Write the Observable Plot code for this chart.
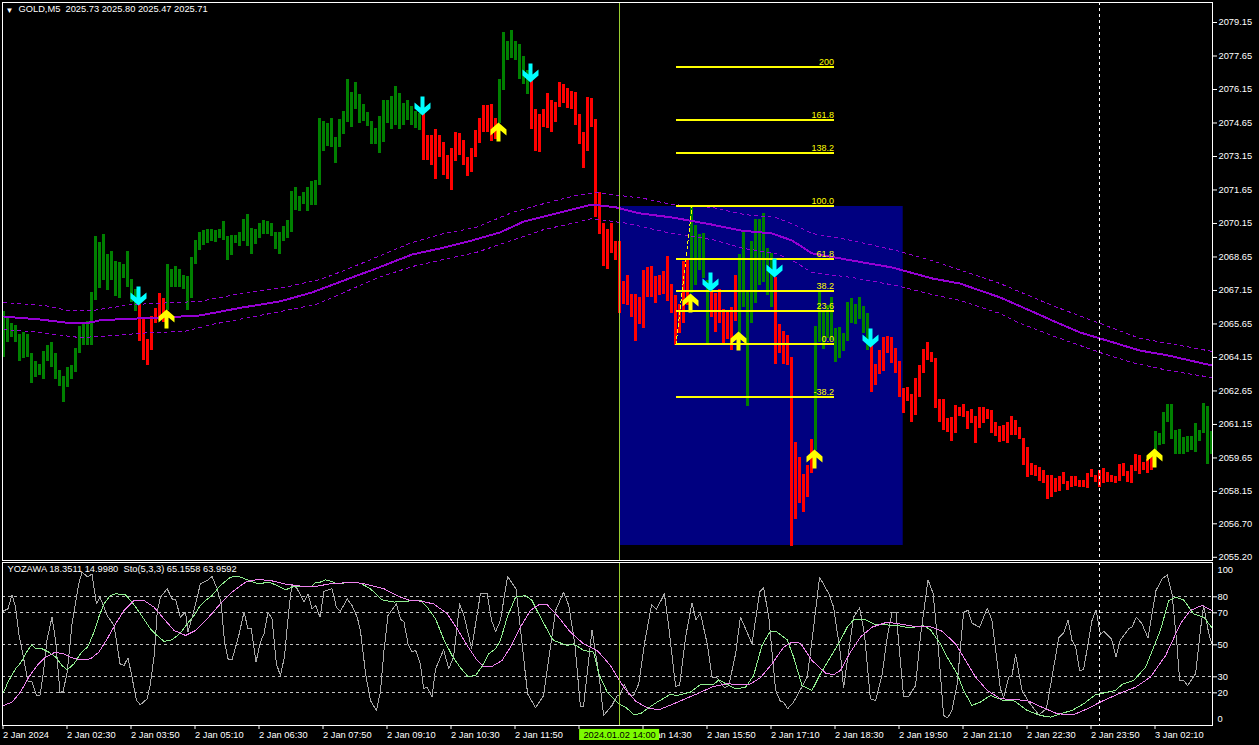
<!DOCTYPE html>
<html><head><meta charset="utf-8">
<script src="https://cdn.jsdelivr.net/npm/d3@7"></script>
<script src="https://cdn.jsdelivr.net/npm/@observablehq/plot@0.6"></script>
<style>html,body{margin:0;padding:0;background:#000;overflow:hidden}svg{display:block;overflow:visible}</style>
</head><body><div id="chart"></div>
<script>
const barRanges=[[2066.21,2064.16],[2065.95,2064.83],[2065.69,2065.06],[2065.58,2064.83],[2065.18,2063.98],[2065.27,2064.09],[2065.18,2064.13],[2064.31,2062.97],[2063.97,2063.27],[2063.83,2063.34],
[2064.42,2063.18],[2064.69,2063.97],[2064.82,2063.72],[2064.31,2063.18],[2063.57,2062.87],[2063.30,2062.15],[2063.68,2062.82],[2063.79,2063.18],[2064.55,2063.49],[2065.54,2064.34],
[2065.63,2064.69],[2065.75,2064.69],[2067.06,2064.69],[2069.57,2066.70],[2069.30,2067.24],[2069.66,2067.60],[2068.76,2067.15],[2068.90,2067.60],[2068.45,2066.88],[2068.40,2066.79],
[2068.31,2067.69],[2068.90,2067.30],[2067.63,2066.61],[2067.18,2066.21],[2066.52,2064.87],[2065.88,2064.01],[2064.95,2063.79],[2065.98,2064.46],[2066.34,2065.67],[2067.01,2065.81],
[2066.79,2065.72],[2068.31,2066.25],[2068.09,2067.30],[2068.22,2067.30],[2068.09,2067.30],[2067.82,2067.21],[2067.77,2066.25],[2068.63,2066.79],[2069.39,2068.31],[2069.75,2068.94],
[2069.84,2069.16],[2069.88,2069.25],[2069.88,2069.34],[2069.84,2069.30],[2069.88,2069.48],[2070.24,2069.39],[2069.57,2068.49],[2069.61,2068.72],[2069.61,2069.25],[2069.75,2069.12],
[2070.33,2069.34],[2070.55,2069.12],[2069.93,2068.76],[2069.88,2069.21],[2070.15,2069.48],[2070.29,2069.66],[2070.24,2069.66],[2070.15,2069.57],[2069.75,2068.98],[2069.75,2068.76],
[2070.01,2069.34],[2070.29,2069.48],[2071.58,2069.75],[2071.76,2070.73],[2071.36,2070.69],[2071.54,2071.00],[2071.76,2070.69],[2072.03,2070.95],[2072.07,2070.95],[2074.85,2071.85],
[2074.72,2073.37],[2074.63,2073.60],[2074.85,2073.55],[2074.00,2072.84],[2074.81,2073.55],[2075.16,2074.13],[2076.60,2074.67],[2076.02,2074.45],[2076.46,2075.25],[2075.93,2074.63],
[2075.48,2074.72],[2075.12,2074.49],[2074.72,2073.69],[2074.40,2073.69],[2074.94,2073.28],[2075.66,2073.78],[2075.66,2074.63],[2075.84,2074.36],[2076.28,2074.54],[2075.97,2074.36],
[2075.52,2074.54],[2075.66,2074.76],[2075.39,2074.54],[2075.16,2074.40],[2075.06,2074.31],[2075.06,2072.97],[2074.09,2072.97],[2074.09,2072.75],[2074.36,2072.12],[2074.09,2073.11],
[2073.78,2072.30],[2073.19,2072.12],[2073.51,2071.63],[2074.22,2072.93],[2074.18,2073.19],[2073.87,2072.75],[2073.11,2072.25],[2073.51,2072.43],[2074.31,2073.11],[2074.85,2073.73],
[2075.43,2074.22],[2075.43,2074.22],[2075.48,2073.82],[2074.85,2073.91],[2076.60,2074.61],[2078.70,2076.11],[2078.30,2077.45],[2078.79,2077.54],[2078.30,2077.45],[2078.17,2076.60],
[2077.63,2076.37],[2077.00,2075.93],[2076.55,2074.36],[2075.25,2073.37],[2075.03,2073.33],[2075.25,2074.45],[2075.97,2074.40],[2075.66,2074.22],[2075.57,2074.67],[2076.46,2075.34],
[2076.37,2075.52],[2076.19,2075.30],[2076.06,2075.25],[2076.02,2074.54],[2075.03,2073.69],[2074.22,2072.61],[2075.79,2073.37],[2075.75,2074.45],[2074.81,2070.42],[2071.54,2069.66],
[2070.15,2068.22],[2069.88,2068.09],[2070.15,2068.81],[2069.34,2068.49],[2069.34,2066.12],[2067.55,2066.52],[2067.82,2066.48],[2066.97,2065.94],[2066.97,2064.87],[2066.84,2065.63],
[2068.05,2065.45],[2068.18,2066.84],[2068.23,2066.84],[2067.78,2066.57],[2067.82,2066.93],[2068.00,2066.97],[2068.67,2066.66],[2067.42,2066.12],[2066.93,2064.69],[2066.52,2065.23],
[2068.45,2065.67],[2068.49,2066.48],[2070.88,2067.00],[2070.06,2067.37],[2069.66,2068.05],[2069.70,2067.69],[2067.60,2064.76],[2067.15,2065.94],[2067.01,2065.27],[2067.19,2065.67],
[2066.30,2064.78],[2066.25,2064.95],[2066.39,2064.46],[2067.82,2065.76],[2068.76,2064.76],[2069.79,2066.39],[2067.15,2061.95],[2069.34,2065.67],[2070.33,2066.57],[2070.33,2067.37],
[2070.60,2067.51],[2069.03,2066.93],[2068.79,2066.39],[2067.75,2063.84],[2065.63,2064.33],[2065.31,2063.84],[2065.14,2063.79],[2064.15,2055.69],[2060.34,2056.90],[2059.67,2057.61],
[2058.91,2057.21],[2059.31,2057.88],[2060.48,2058.96],[2065.54,2059.99],[2067.06,2064.82],[2066.25,2064.51],[2066.48,2064.99],[2066.84,2064.91],[2065.45,2063.93],[2065.49,2064.10],
[2065.23,2064.42],[2066.61,2064.87],[2066.79,2065.67],[2066.52,2065.63],[2066.84,2065.85],[2066.43,2065.21],[2066.12,2064.46],[2064.69,2062.58],[2063.84,2062.90],[2064.46,2063.39],
[2065.05,2063.52],[2065.09,2064.33],[2065.05,2063.88],[2064.55,2063.44],[2063.97,2062.36],[2062.76,2061.64],[2062.81,2062.18],[2062.49,2061.24],[2063.21,2061.55],[2063.79,2062.36],
[2064.51,2063.44],[2064.82,2064.02],[2064.37,2063.93],[2064.10,2061.87],[2062.27,2061.24],[2062.27,2060.88],[2061.42,2060.79],[2061.46,2060.39],[2062.00,2060.75],[2061.91,2061.51],
[2062.05,2061.46],[2061.73,2060.93],[2061.82,2061.19],[2061.51,2060.30],[2061.91,2060.97],[2061.91,2061.19],[2061.82,2061.37],[2061.78,2060.75],[2061.24,2060.61],[2061.06,2060.34],
[2061.10,2060.39],[2061.24,2060.30],[2061.51,2060.66],[2061.33,2060.66],[2061.01,2060.48],[2060.52,2059.31],[2060.12,2058.77],[2059.40,2058.87],[2059.31,2058.82],[2059.22,2058.60],
[2059.09,2058.51],[2058.87,2057.79],[2058.87,2057.88],[2058.73,2058.11],[2058.82,2058.15],[2059.00,2058.46],[2058.60,2058.20],[2058.82,2058.33],[2058.82,2058.37],[2058.64,2058.33],
[2058.64,2058.33],[2058.96,2058.28],[2059.13,2058.77],[2058.87,2058.55],[2059.09,2058.33],[2059.18,2058.51],[2059.00,2058.55],[2058.87,2058.55],[2058.82,2058.51],[2059.36,2058.60],
[2059.40,2058.82],[2059.05,2058.55],[2059.31,2058.51],[2059.81,2059.05],[2059.76,2058.91],[2059.45,2059.09],[2059.58,2058.96],[2059.67,2059.09],[2060.84,2059.91],[2060.75,2060.21],
[2061.69,2060.25],[2062.05,2061.24],[2062.05,2060.48],[2060.88,2059.81],[2060.93,2059.81],[2060.57,2059.81],[2060.61,2059.90],[2060.61,2059.98],[2061.19,2059.90],[2060.88,2060.39],
[2062.09,2060.75],[2061.95,2059.36],[2060.84,2059.81]];
// first bar of each trend run, with its colour
const trendRuns=[[0,"up"],[34,"down"],[41,"up"],[105,"down"],[124,"up"],[132,"down"],[172,"up"],[177,"down"],[184,"up"],[193,"down"],[203,"up"],[217,"down"],[288,"up"]];
const sellArrows=[[34,2066.48],[105,2074.99],[132,2076.46],[177,2067.10],[193,2067.73],[217,2064.60]];
const buyArrows=[[41,2066.30],[124,2074.67],[172,2067.01],[184,2065.31],[203,2060.03],[288,2060.07]];
const maMain=[[0,2065.98],[9,2065.85],[17,2065.68],[22,2065.72],[24,2065.82],[34,2065.90],[44,2065.98],[49,2066.03],[59,2066.37],[69,2066.66],[77,2067.06],[85,2067.60],[93,2068.13],[102,2068.76],[110,2069.07],[117,2069.39],[124,2069.75],[130,2070.24],[139,2070.64],[147,2071.00],[153,2070.87],[159,2070.60],[167,2070.42],[177,2070.10],[184,2069.84],[192,2069.70],[197,2069.39],[202,2068.81],[212,2068.49],[222,2068.18],[232,2067.69],[239,2067.46],[249,2066.84],[257,2066.21],[262,2065.81],[269,2065.27],[274,2065.00],[284,2064.46],[291,2064.24],[302,2063.79]];
const maUpper=[[0,2066.61],[10,2066.48],[16,2066.25],[22,2066.25],[32,2066.52],[49,2066.66],[59,2067.01],[70,2067.28],[79,2067.64],[85,2068.04],[93,2068.63],[102,2069.30],[110,2069.70],[118,2069.97],[127,2070.64],[135,2071.04],[143,2071.40],[148,2071.54],[160,2071.27],[167,2071.00],[177,2070.87],[185,2070.55],[193,2070.42],[198,2070.06],[202,2069.70],[212,2069.39],[223,2068.94],[232,2068.49],[249,2067.46],[262,2066.48],[272,2065.81],[284,2065.00],[294,2064.69],[302,2064.42]];
const maLower=[[0,2065.40],[7,2065.31],[19,2065.04],[24,2065.09],[37,2065.27],[45,2065.31],[52,2065.63],[64,2066.03],[78,2066.52],[85,2067.06],[93,2067.69],[102,2068.22],[110,2068.54],[118,2068.85],[127,2069.39],[135,2069.88],[143,2070.19],[147,2070.37],[156,2070.15],[167,2069.70],[177,2069.43],[185,2069.03],[193,2068.81],[198,2068.40],[202,2067.95],[212,2067.73],[223,2067.37],[232,2066.97],[239,2066.70],[249,2066.12],[253,2065.76],[262,2065.13],[274,2064.37],[282,2063.92],[291,2063.57],[302,2063.25]];
const fiboLevels=["200","161.8","138.2","100.0","61.8","38.2","23.6","0.0","-38.2"];
const fiboPrices=[2077.13,2074.76,2073.28,2070.91,2068.55,2067.09,2066.19,2064.73,2062.37];
const fiboSpan=[168,207.5];
const fiboTrend=[[168,2064.73],[172,2070.91]];
const fiboBox=[{x1:154,x2:224.8,y1:2055.73,y2:2070.91}];
const priceTicks=[2079.15,2077.65,2076.15,2074.65,2073.15,2071.65,2070.15,2068.65,2067.15,2065.65,2064.15,2062.65,2061.15,2059.65,2058.15,2056.70,2055.20];
const stochFast=[[-.2,71],[1,72.5],[2,81.2],[2.9,73.5],[3.7,56.9],[5,40.2],[6,27.3],[7,26.7],[8.1,18.3],[9,18.3],[9.8,31.9],[10.8,53.7],[12,67.3],[12.9,52.7],[14,20],[14.8,21],[15.8,32.9],[17,63.1],[17.9,76.7],[18.7,88.1],[19.5,95.4],[21,92.3],[22,94.4],[23.1,75.6],[24,79.8],[25.8,68.3],[27.5,62.1],[29,38.1],[30,37.1],[31,41.9],[32,29.8],[33.1,15.2],[34.1,12.5],[35.8,16.3],[36.6,25.6],[37.6,44.4],[38.3,70.4],[39.1,79.8],[40.8,85],[42,78.7],[42.9,78.1],[44.1,67.3],[45.4,70.4],[46,57.9],[47.5,71.5],[49.1,88.1],[50.8,90.2],[52,92.7],[53.3,85],[54.3,75.6],[55.1,52.7],[56,41.2],[57,40.6],[58.7,55.8],[60,70.4],[61,60],[61.8,60],[63,39.2],[64.1,51.7],[65,56.9],[66,70.4],[67,66.2],[68.1,38.1],[69.1,30.8],[70.1,42.3],[71.2,71.5],[72,88.1],[73.3,85],[75,76.7],[76,81.9],[77,72.5],[77.9,74.6],[79,67.3],[80,83.5],[82,85],[83.1,73.5],[84.1,71],[85.8,78.7],[87,74.6],[88.3,67.3],[89.1,59],[90.4,31.9],[91.6,15.2],[93.1,9],[94.1,20.4],[95,46.5],[96,68.3],[98.1,75.6],[99.1,66.2],[100,64.2],[101,50.6],[102,45.4],[102.9,46.5],[104.1,38.1],
[104.9,22.5],[105.8,23.5],[107,17.3],[107.9,35],[109.9,46.9],[111.2,35],[112.4,42.3],[113.9,75.6],[115.1,67.3],[116.9,47.5],[119.1,81.9],[120.8,81.9],[121.9,65.2],[122.9,58.3],[124.1,65.2],[125.9,92.7],[128,85],[129.1,60],[130.9,19.4],[132.9,10.6],[134.9,18.3],[136.6,48.5],[137.9,71.5],[139.9,82.9],[141.2,74.6],[142.7,50.6],[144.1,11.7],[144.9,11.7],[147,59.4],[148.7,31.9],[149.9,5.8],[152,12.1],[153.3,18.3],[154.1,19],[155.1,25.2],[156.2,19],[157.4,18.3],[158.7,25.6],[160.1,50.6],[161.9,75],[163.1,72.1],[165.1,81.9],[166.2,61],[167.9,24],[168.9,24.6],[170.4,54.8],[172,76.2],[173,65.6],[174.1,69.8],[175.8,50.6],[177,29.8],[178.3,29.2],[180.1,23.1],[181.2,24.6],[182.9,44.4],[184.1,67.3],[185.4,60],[187,50.6],[188.9,82.9],[189.9,85.6],[191.2,67.3],[192.9,21.5],[194.1,14.6],[194.9,14.2],[195.9,10],[197.4,14.2],[200.8,29.8],[202,52.7],[203.9,92.3],[206.2,81.9],[207.4,73.5],[209.1,44.4],
[209.9,23.1],[211.2,46.5],[212.4,67.3],[213.9,73.1],[215.1,56.9],[216.6,16.3],[217.9,15.2],[219.5,30.8],[220.8,54.8],[222,70],[223,70.4],[224.9,17.7],[226.2,17.7],[227.9,24.6],[229.1,54.8],[231,90.6],[232.3,81.9],[233.7,44.4],[234.9,5.8],[235.9,4.4],[237,9],[238.3,25.6],[239.9,70.4],[241,71.5],[242,63.5],[243.9,61],[245.8,72.9],[247,65.2],[249.1,22.5],[249.9,16.9],[251.2,29.8],[252,30.8],[252.9,44],[254.5,21.5],[256.2,14.2],[258.7,6.2],[260.6,10],[262,29.8],[263.7,54.4],[264.9,57.3],[266,65.6],[267,52.7],[267.9,49],[268.9,34],[269.9,34.4],[272,65.2],[273,71.9],[274.1,56.5],[274.9,58.5],[276.9,53.7],[278,42.3],[279.1,53.1],[281.2,60],[282,61],[283.1,67.3],[284.5,63.1],[286,54.2],[288,83.9],[289.5,91.2],[290.8,93.7],[292,81.9],[293.3,48.5],[293.9,27.7],[294.9,27.7],[295.9,24.6],[297.9,31.9],[299.1,59],[299.9,74.6],[301.2,56.9],[302.2,49]];
const stochMain=[[-.2,20],[1.2,27.7],[2.9,35],[4.3,39.2],[5.4,44.4],[6.9,50],[7.9,47.5],[9.5,47.5],[11.2,45.4],[12.9,42.3],[14.5,37.1],[15.8,34.4],[17.5,38.1],[19.1,44.4],[21,49],[22.5,57.9],[23.7,67.3],[25,75.6],[26.6,80.8],[27.9,81.9],[30.4,81.2],[32,76.7],[34.1,69.4],[36.6,60],[38.3,55.8],[40,52.1],[42,53.1],[44.1,57.3],[45.8,63.1],[47.5,68.3],[49.1,74.6],[50.4,77.7],[52,80.8],[54.1,87.1],[56.6,92.3],[58.7,92.7],[61.2,90.2],[63.7,88.1],[66.2,89.2],[68.3,87.1],[70.4,84.4],[72.5,86.5],[77,86.5],[77.9,89.2],[79.1,89.2],[80.4,90.6],[81.6,89.8],[83.3,88.1],[86.6,89.2],[89.1,88.5],[91.6,85],[94.5,78.1],[97.5,76.7],[100.8,77.3],[104.1,78],
[105.8,73.5],[107.9,66.2],[109.9,53.7],[112,43.3],[114.1,35.6],[116,30.2],[117.9,30.8],[119.5,36.5],[121.2,44.4],[122.9,47.5],[124.1,52.7],[125.8,67.3],[127.9,79.8],[130.4,80.8],[132,77.7],[134.1,67.3],[136.6,55.8],[137.4,52.7],[140.8,49.6],[142.4,50.6],[144.9,46.5],[147.4,45.4],[148.7,31.9],[150.8,20.4],[153.7,13.1],[155.4,11],[157.4,6.5],[159.1,6.9],[160.8,10],[163.3,14.2],[166.6,19],[168.3,18.3],[171.6,20.4],[174.1,25.2],[177.4,25.2],[178.7,28.1],[180.8,25.2],[182.9,22.5],[185.4,23.5],[187.4,30.8],[189.5,49.6],[191.6,58.5],[192.9,58.5],[195.8,53.1],[197.4,42.3],[199.5,24.6],[202,21.5],[204.1,31.9],[206.6,42.3],[209.1,52.7],
[210.8,61],[212.4,65.6],[215.4,65.6],[217.9,62.5],[219.9,62.5],[223.3,62.1],[226.2,60.6],[229.9,61.9],[231.6,59.4],[234.1,50.6],[235.8,42.3],[238.3,31.9],[239.9,21.5],[242,12.1],[244.1,14.2],[246.6,18.3],[249.9,15.2],[252.4,15.2],[255.8,9],[259.1,5.8],[261.6,4.8],[264.1,6.9],[267,9],[269.9,13.1],[272.9,18.8],[277.9,21.5],[279.5,25.2],[282.4,27.7],[285.4,36],[287.4,48.5],[289.1,59],[291.2,77.7],[292.9,79.8],[294.9,78.1],[297.4,69.4],[299.9,67.3],[302.2,60]];
const stochSignal=[[-.2,11.9],[2,14.2],[4.1,20.4],[6.2,29.8],[8.3,37.1],[10.4,42.3],[12.5,45],[14.5,44.8],[17,41.9],[19.1,40.6],[21.6,41.2],[23.7,45.4],[25.8,53.7],[27.9,63.1],[30,71.5],[32.5,77.7],[35,77.7],[37.5,73.5],[40,66.2],[42.5,59],[45.4,55.8],[47.9,59],[50.8,66.2],[54.1,75.6],[57,82.9],[60.4,89.2],[63.3,90.8],[66.6,90.2],[70,88.1],[74.1,86.7],[78.3,86.7],[81.6,88.1],[87.5,89.2],[90.8,87.7],[95,85],[99.1,79.8],[101.6,77.7],[104.1,77.3],
[107.4,75.6],[110.8,69.4],[113.3,60],[115.8,49.6],[118.3,40.2],[119.9,36.5],[122,36.5],[124.5,40.2],[126.6,48.5],[129.1,61],[131.6,71.5],[133.7,75],[135.8,75],[138.3,68.3],[141.6,57.9],[144.9,50.6],[148.3,46.5],[151.6,37.1],[154.9,23.5],[157.9,14.8],[160.8,10.6],[163.7,9.4],[167.4,13.1],[173.3,19.4],[177.4,24],[180.8,25.6],[186.2,25],[189.1,29.4],[192,38.1],[194.9,48.5],[197,51.7],[199.1,51],[202,40.2],[205.4,32.3],[207.4,31.3],[209.1,34],
[211.6,45.4],[214.1,54.8],[217,61],[220.8,64.2],[223.7,63.1],[227,61.7],[231.2,61.7],[234.5,58.5],[237.9,50.6],[240.4,40.2],[242.9,29.8],[245.8,21.5],[249.1,16.3],[255.8,15.2],[259.5,11],[263.3,6.9],[267.4,6.3],[270.8,10],[274.9,15.2],[278.7,19.4],[282.9,23.5],[286.6,29.8],[290.4,43.3],[294.1,63.1],[296.6,71.5],[299.5,74.6],[302,71.5]];
const stochLevels=[80,70,50,30,20];
const timeTicks=[0,16,32,48,64,80,96,112,128,144,160,176,192,208,224,240,256,272,288];
const timeLabels=["2 Jan 2024","2 Jan 02:30","2 Jan 03:50","2 Jan 05:10","2 Jan 06:30","2 Jan 07:50","2 Jan 09:10","2 Jan 10:30","2 Jan 11:50","","2 Jan 14:30","2 Jan 15:50","2 Jan 17:10","2 Jan 18:30","2 Jan 19:50","2 Jan 21:10","2 Jan 22:30","2 Jan 23:50","3 Jan 02:10"];
const crossSolid=154, crossDashed=274;
const crossLabel="2024.01.02 14:00";
const chartTitle="GOLD,M5  2025.73 2025.80 2025.47 2025.71";
const subTitle="YOZAWA 18.3511 14.9980  Sto(5,3,3) 65.1558 63.9592";

const FONT='"Liberation Sans",sans-serif';
const FS=9.3;
const XD=[-0.375,302.125];
const trendOf=k=>{let t="up";for(const [s,c] of trendRuns) if(k>=s) t=c;return t;};
const bars=barRanges.map(([high,low],k)=>({k,high,low,trend:trendOf(k)}));
const GREEN="#008000",RED="#ff0000",PURPLE="#9400d3";
const arrowShape={draw(ctx,l){
  const p=[[0,-l],[8,-l+7],[8,-l+13],[2,-l+8],[2,0],[-2,0],[-2,-l+8],[-8,-l+13],[-8,-l+7]];
  ctx.moveTo(p[0][0],p[0][1]);for(const q of p.slice(1))ctx.lineTo(q[0],q[1]);ctx.closePath();
}};
const mainPlot=Plot.plot({
  width:1259,height:561,marginLeft:2,marginRight:47,marginTop:2,marginBottom:1,
  style:{background:"transparent",color:"#fff",fontFamily:FONT,fontSize:FS+"px",overflow:"visible"},
  x:{domain:XD,axis:null},
  y:{domain:[2055.057,2080.046],axis:null},
  marks:[
    Plot.rect(fiboBox,{x1:"x1",x2:"x2",y1:"y1",y2:"y2",fill:"#000080"}),
    Plot.ruleX(bars,{x:"k",y1:"low",y2:"high",dx:-0.5,stroke:d=>d.trend==="up"?GREEN:RED,strokeWidth:3,shapeRendering:"crispEdges",clip:true}),
    Plot.line(maUpper,{x:"0",y:"1",stroke:PURPLE,strokeWidth:1,strokeDasharray:"3,4",shapeRendering:"crispEdges"}),
    Plot.line(maLower,{x:"0",y:"1",stroke:PURPLE,strokeWidth:1,strokeDasharray:"3,4",shapeRendering:"crispEdges"}),
    Plot.line(maMain,{x:"0",y:"1",stroke:PURPLE,strokeWidth:2,shapeRendering:"crispEdges"}),
    Plot.ruleX([crossSolid],{dx:-0.5,stroke:"#9acd32",strokeWidth:1,shapeRendering:"crispEdges"}),
    Plot.ruleX([crossDashed],{dx:-0.5,stroke:"#fff",strokeWidth:1,strokeDasharray:"3,3",shapeRendering:"crispEdges"}),
    Plot.line(fiboTrend,{x:"0",y:"1",stroke:"#ffff00",strokeWidth:1,strokeDasharray:"3,3",shapeRendering:"crispEdges"}),
    Plot.ruleY(fiboPrices,{x1:fiboSpan[0],x2:fiboSpan[1],dy:-0.5,stroke:"#ffff00",strokeWidth:2,shapeRendering:"crispEdges"}),
    Plot.text(fiboPrices,{x:fiboSpan[1],y:d=>d,text:(d,i)=>fiboLevels[i],textAnchor:"end",dy:-5.5,fill:"#ffff00",fontSize:9}),
    Plot.vector(sellArrows,{x:"0",y:"1",dx:-1.5,length:19,rotate:180,anchor:"end",shape:arrowShape,fill:"#00ffff",stroke:"none"}),
    Plot.vector(buyArrows,{x:"0",y:"1",dx:-1.5,length:19,rotate:0,anchor:"end",shape:arrowShape,fill:"#ffff00",stroke:"none"}),
    Plot.frame({stroke:"#fff",strokeWidth:1}),
    Plot.axisY({anchor:"right",ticks:priceTicks,tickFormat:d=>d.toFixed(2),tickSize:4,tickPadding:2,label:null,fontSize:FS}),
    Plot.text(["▼"],{frameAnchor:"top-left",dx:3,dy:5,fill:"#fff",fontSize:8,textAnchor:"start",lineAnchor:"top"}),
    Plot.text([chartTitle],{frameAnchor:"top-left",dx:16,dy:3,fill:"#fff",fontSize:FS,textAnchor:"start",lineAnchor:"top"})
  ]
});
const subPlot=Plot.plot({
  width:1259,height:184,marginLeft:2,marginRight:47,marginTop:1,marginBottom:20,
  style:{background:"transparent",color:"#fff",fontFamily:FONT,fontSize:FS+"px"},
  x:{domain:XD,axis:null},
  y:{domain:[-0.44,101.44],axis:null},
  marks:[
    Plot.ruleY(stochLevels,{stroke:"#c0c0c0",strokeWidth:1,strokeDasharray:"3,3",shapeRendering:"crispEdges"}),
    Plot.line(stochFast,{x:"0",y:"1",stroke:"#a8a8a8",strokeWidth:1,shapeRendering:"crispEdges"}),
    Plot.line(stochMain,{x:"0",y:"1",stroke:"#90ee90",strokeWidth:1,shapeRendering:"crispEdges"}),
    Plot.line(stochSignal,{x:"0",y:"1",stroke:"#ee82ee",strokeWidth:1,shapeRendering:"crispEdges"}),
    Plot.ruleX([crossDashed],{dx:-0.5,stroke:"#fff",strokeWidth:1,strokeDasharray:"3,3",shapeRendering:"crispEdges"}),
    Plot.ruleX([crossSolid],{dx:-0.5,stroke:"#9acd32",strokeWidth:1,shapeRendering:"crispEdges"}),
    Plot.frame({stroke:"#fff",strokeWidth:1}),
    Plot.axisY({anchor:"right",ticks:stochLevels,tickFormat:d=>String(d),tickSize:4,tickPadding:1,label:null,fontSize:FS}),
    Plot.text([100],{x:XD[1],y:d=>d,text:d=>String(d),textAnchor:"start",dx:5,dy:5,fill:"#fff",fontSize:FS}),
    Plot.text([0],{x:XD[1],y:d=>d,text:d=>String(d),textAnchor:"start",dx:5,dy:-6,fill:"#fff",fontSize:FS}),
    Plot.axisX({anchor:"bottom",ticks:timeTicks,tickFormat:d=>timeLabels[timeTicks.indexOf(d)],tickSize:4,tickPadding:2,textAnchor:"start",label:null,fontSize:FS,dx:-1}),
    Plot.rect([0],{x1:143.9,x2:163.9,y1:-2.9,y2:-9.8,fill:"#7cfc00"}),
    Plot.text([crossLabel],{x:153.9,y:-6.4,fill:"#000",textAnchor:"middle",fontSize:FS}),
    Plot.text([subTitle],{frameAnchor:"top-left",dx:5,dy:3,fill:"#fff",fontSize:FS,textAnchor:"start",lineAnchor:"top"})
  ]
});
const root=document.getElementById("chart");
root.append(mainPlot,subPlot);
</script></body></html>
